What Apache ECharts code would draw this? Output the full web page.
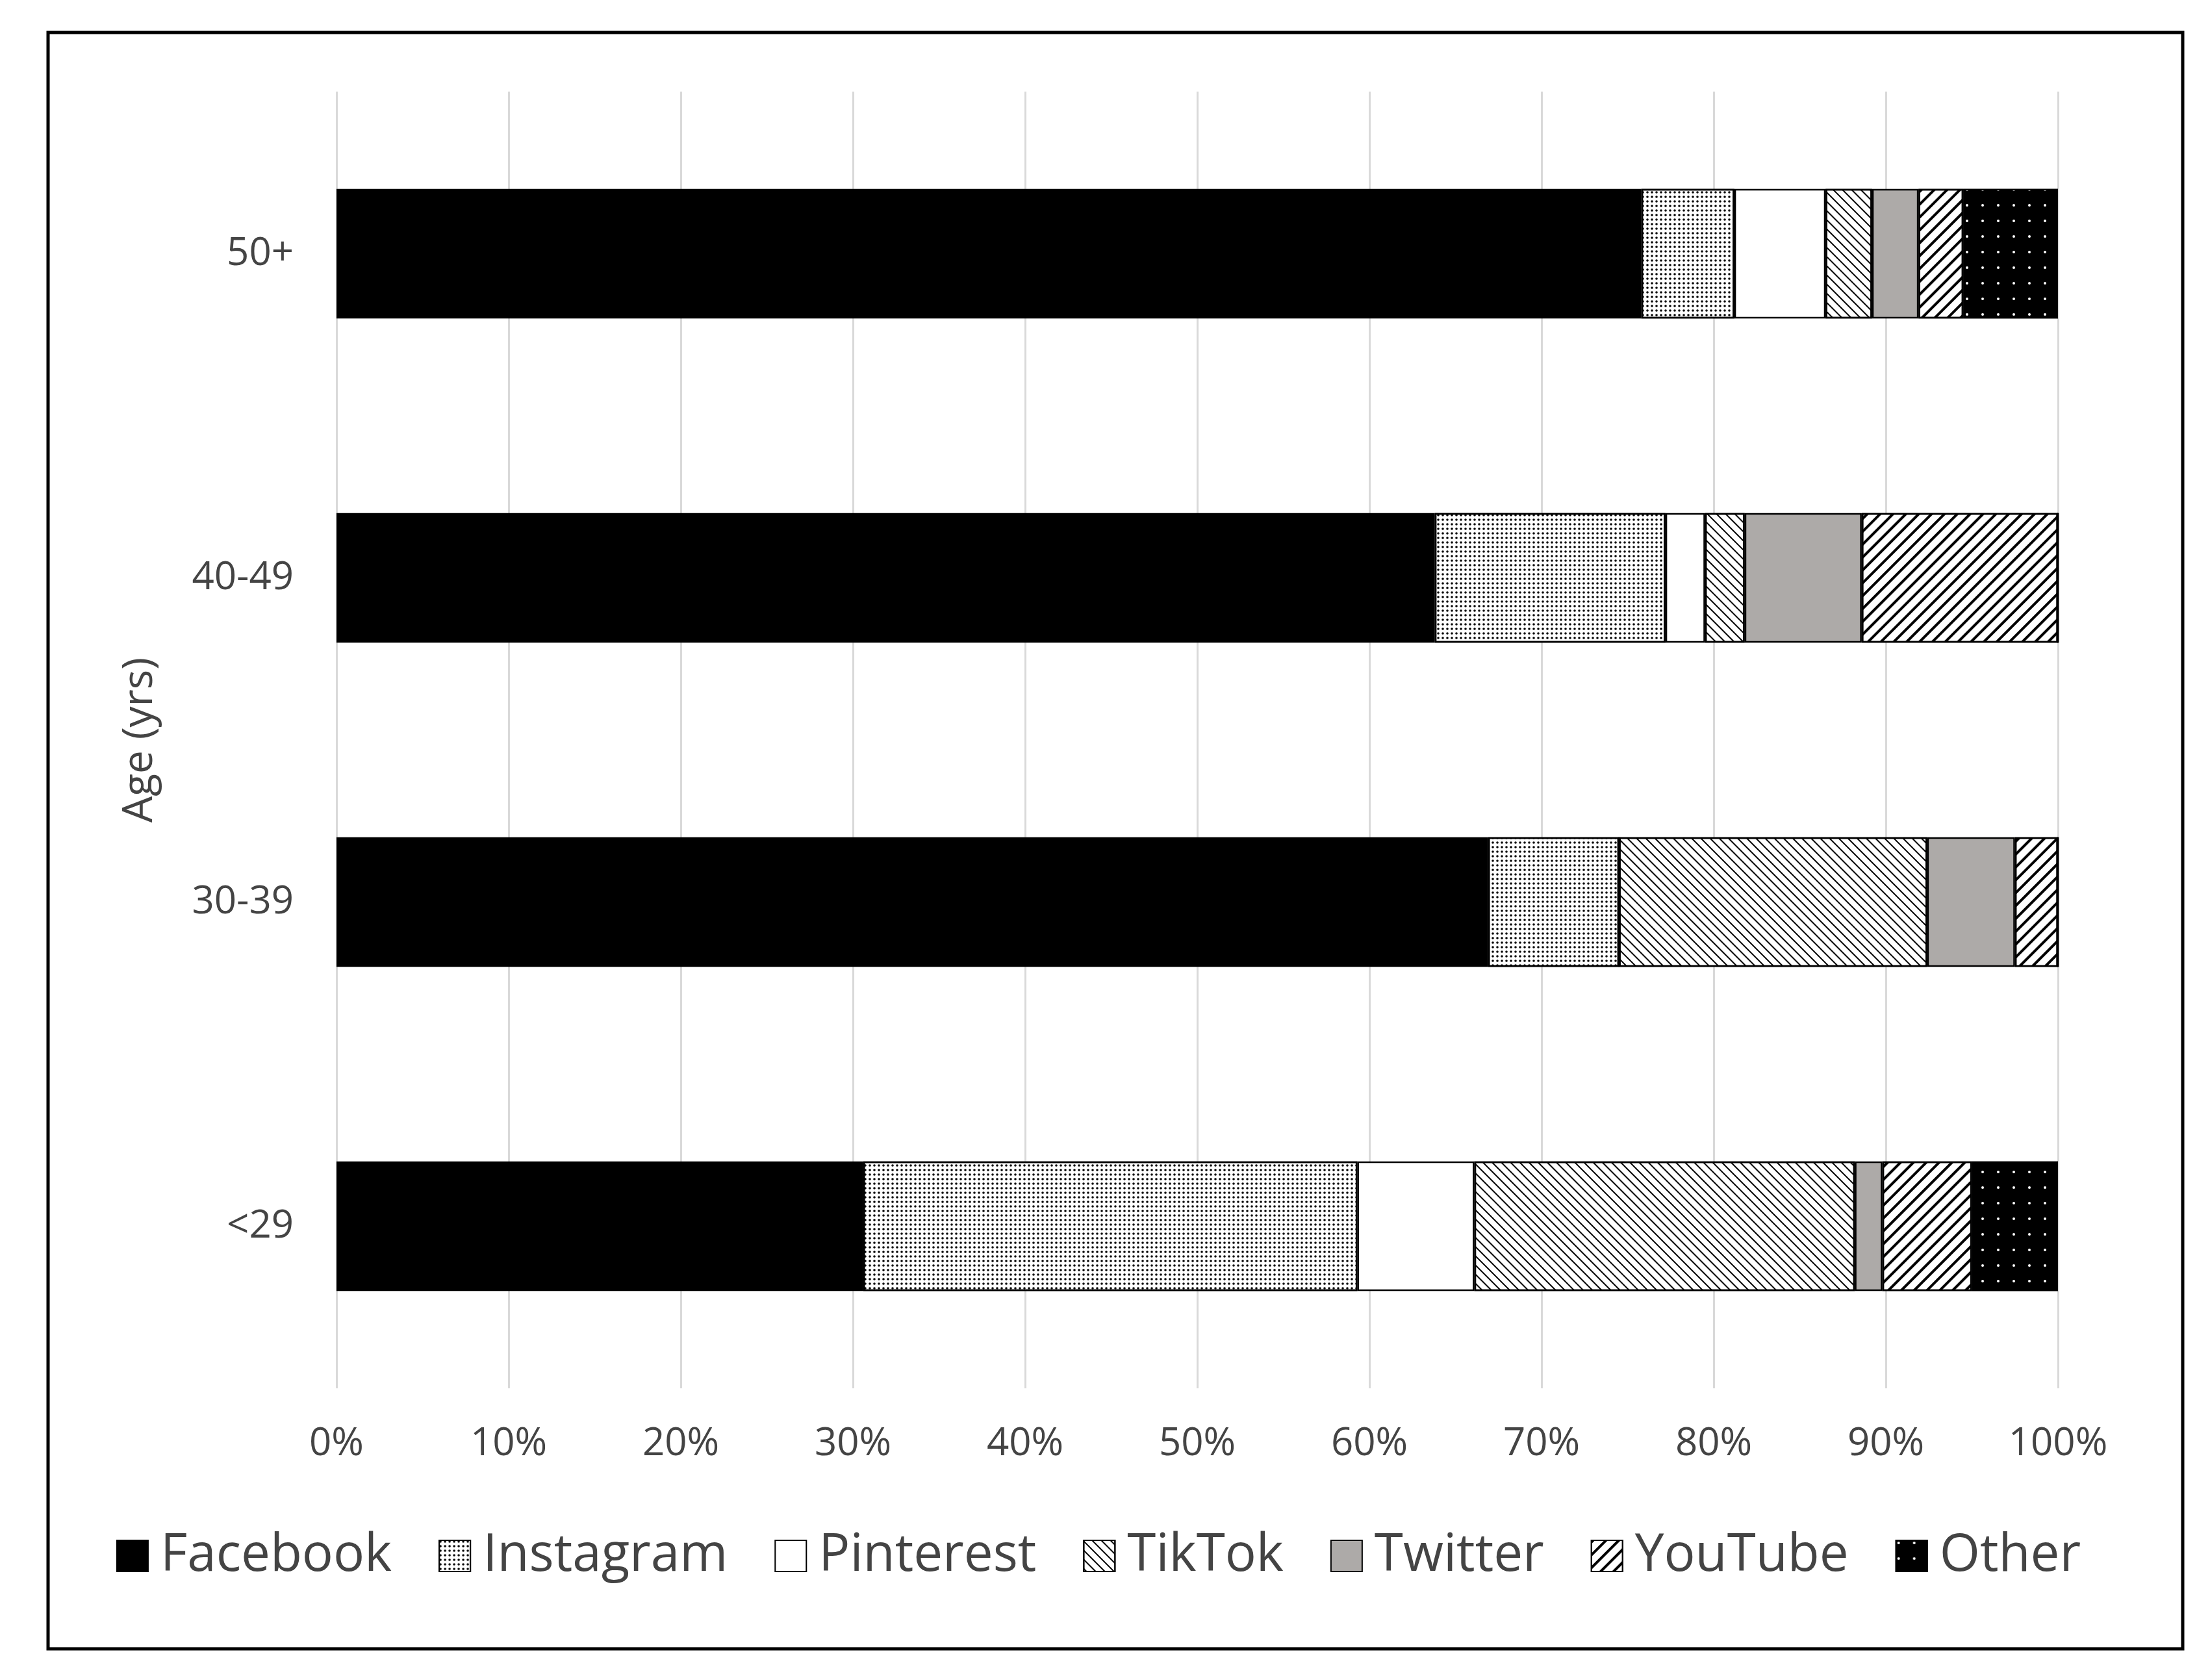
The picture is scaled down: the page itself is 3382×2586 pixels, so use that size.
<!DOCTYPE html>
<html><head><meta charset="utf-8">
<script src="https://cdn.jsdelivr.net/npm/echarts@6/dist/echarts.min.js"></script>
<style>
html,body{margin:0;padding:0;background:#fff}
#chart{width:3382px;height:2586px}
</style></head>
<body><div id="chart"></div>
<script>
// bottom to top, as on the y axis
const ageGroups = ['<29', '30-39', '40-49', '50+']
const facebook = [30.6, 66.9, 63.8, 75.8]
const instagram = [28.7, 7.6, 13.4, 5.4]
const pinterest = [6.8, 0, 2.3, 5.3]
const tiktok = [22.1, 17.9, 2.3, 2.7]
const twitter = [1.6, 5.1, 6.8, 2.7]
const youtube = [5.2, 2.5, 11.4, 2.6]
const other = [5.0, 0, 0, 5.5]
const xTicks = [0, 10, 20, 30, 40, 50, 60, 70, 80, 90, 100]

const font = 'Open Sans, Liberation Sans, sans-serif'

function bar(name, data, color, decal) {
  const itemStyle = { color: color, borderColor: '#000', borderWidth: 2.5 }
  if (decal) itemStyle.decal = decal
  return { name, type: 'bar', stack: 'all', data, barWidth: '40%', itemStyle }
}

const stripes = (fg, dir, w, gap) => ({ symbol: 'rect', symbolSize: 1, color: fg, dashArrayX: [1, 0], dashArrayY: [w, gap], rotation: dir * Math.PI / 4 })

const series = [
  bar('Facebook', facebook, '#000'),
  bar('Instagram', instagram, '#fff', { symbol: 'circle', symbolSize: 0.9, color: '#000', dashArrayX: [[4, 3]], dashArrayY: [4, 3] }),
  bar('Pinterest', pinterest, '#fff'),
  bar('TikTok', tiktok, '#fff', stripes('#000', 1, 2, 8)),
  bar('Twitter', twitter, '#adaaa8'),
  bar('YouTube', youtube, '#fff', stripes('#000', -1, 4, 10)),
  bar('Other', other, '#000', { symbol: 'circle', symbolSize: 0.5, color: '#fff', dashArrayX: [[8, 16]], dashArrayY: [8, 16] })
]

const chart = echarts.init(document.getElementById('chart'))
chart.setOption({
  backgroundColor: '#fff',
  animation: false,
  graphic: [{ type: 'rect', shape: { x: 74, y: 50, width: 3286, height: 2488 }, style: { fill: 'none', stroke: '#000', lineWidth: 5 } }],
  grid: { left: 518, right: 3382 - 3185 + 17, top: 141, bottom: 2586 - 2137 },
  legend: {
    bottom: 2586 - 2440, left: 'center', icon: 'rect', itemWidth: 48, itemHeight: 48, itemGap: 72,
    textStyle: { fontSize: 80, color: '#444', fontFamily: font, padding: [0, 0, 0, 14] },
    data: series.map(s => s.name)
  },
  xAxis: {
    type: 'value', min: 0, max: 100, interval: 10,
    axisLine: { show: false }, axisTick: { show: false },
    splitLine: { lineStyle: { color: '#d9d9d9', width: 3 } },
    axisLabel: { fontSize: 60, color: '#444', fontFamily: font, margin: 56, formatter: v => xTicks.includes(v) ? v + '%' : '' }
  },
  yAxis: {
    type: 'category', data: ageGroups,
    name: 'Age (yrs)', nameLocation: 'middle', nameGap: 270, nameRotate: 90,
    nameTextStyle: { fontSize: 64, color: '#444', fontFamily: font },
    axisLine: { show: false }, axisTick: { show: false },
    axisLabel: { fontSize: 60, color: '#444', fontFamily: font, margin: 66 }
  },
  series
})
</script></body></html>
